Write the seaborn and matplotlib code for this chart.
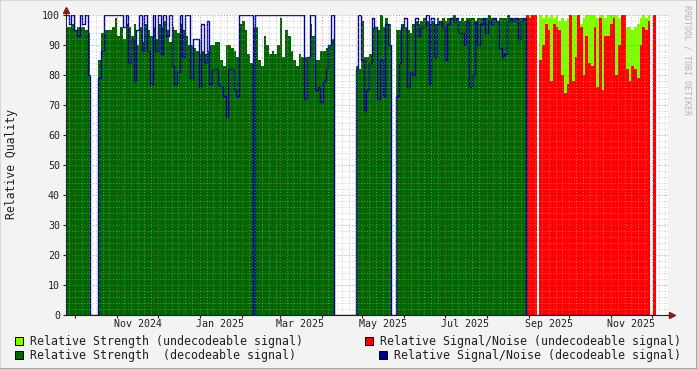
import numpy as np
import pandas as pd
import matplotlib
matplotlib.use("Agg")
import matplotlib.pyplot as plt
import matplotlib.dates as mdates
from matplotlib.ticker import MultipleLocator, NullFormatter
from matplotlib.patches import Rectangle
from matplotlib.lines import Line2D
import seaborn as sns

# =====================================================
# DATA  (one sample every 2 days)
# =====================================================

start_date = "2024-09-24"
undecoded_from = "2025-08-30"   # from here on the signal was not decoded any more
x_end = "2025-12-13"

# relative strength (%)
strength = [
    96, 96, 97, 95, 96, 96, 96, 95, 94,
    0, 0, 0,
    85, 94, 95, 95, 95, 96, 99, 93, 96, 92, 97, 96, 93, 97, 90, 96, 91, 97,
    95, 93, 96, 92, 97, 96, 98, 95, 91,
    96, 95, 94, 97, 95, 93, 90, 90, 89, 88, 87, 88, 87, 88, 90, 90, 91, 91,
    85, 83, 90, 90, 89, 88, 86, 97, 98, 95, 87, 84, 96, 96, 85, 83, 93, 90, 87,
    88, 87, 90, 99, 86, 95, 93, 88, 85, 83, 87, 86, 86, 86, 97, 93, 85, 85,
    88, 88, 89, 90, 92, 0,
    0, 0, 0, 0, 0, 0, 0,
    83, 82, 98, 86, 86, 87, 96, 96, 95, 100, 96, 99, 97,
    0, 0,
    95, 95, 97, 96, 95, 94, 97, 98, 97, 98, 99, 98, 97, 98, 97, 99, 98, 99,
    98, 99, 99, 100, 99, 98, 99, 98, 99, 99, 99, 98, 99, 99, 99, 99, 100, 99,
    99, 98, 99, 99, 99, 100, 99, 99, 99, 99, 99, 99,
    100, 100, 100, 100, 0, 100, 99, 100, 99, 100, 99, 100, 98, 99, 98, 99,
    100, 100, 100, 100, 97, 99, 100, 100, 100, 100, 99, 100, 100, 99, 100, 100,
    100, 100, 99, 100, 100, 96, 96, 95, 96, 97, 99, 100, 99, 100, 0, 100,
]

# relative signal/noise (%)
snr = [
    100, 97, 100, 95, 93, 100, 97, 100, 80,
    0, 0, 0,
    79, 88, 100, 100, 100, 100, 100, 100, 100, 96, 100, 84, 92, 78, 95, 100,
    88, 100, 88, 77, 100, 88, 100, 87, 100, 93, 100,
    83, 77, 81, 100, 86, 100, 100, 79, 92, 92, 76, 97, 84, 98, 77, 82, 82, 77,
    76, 73, 66, 82, 82, 75, 73, 100, 100, 100, 100, 100, 0, 100, 100, 100,
    100, 100, 100,
    100, 100, 100, 100, 100, 100, 100, 100, 100, 100, 100, 100, 72, 86, 100,
    100, 75, 76, 71, 78, 82, 90, 100, 0,
    0, 0, 0, 0, 0, 0, 0,
    82, 100, 85, 68, 75, 84, 99, 96, 72, 85, 73, 97, 90,
    0, 0,
    73, 84, 96, 99, 76, 81, 80, 99, 93, 96, 96, 100, 77, 99, 86, 97, 98, 96,
    85, 97, 99, 98, 99, 94, 94, 90, 98, 76, 80, 98, 90, 97, 99, 94, 98, 97,
    99, 98, 89, 86, 87, 98, 99, 98, 99, 92, 98, 99,
    100, 99, 100, 100, 0, 85, 90, 97, 95, 78, 97, 96, 95, 80, 74, 77,
    100, 78, 86, 100, 96, 80, 93, 84, 83, 96, 76, 99, 75, 93, 93, 97,
    99, 80, 90, 100, 100, 82, 78, 83, 82, 79, 90, 96, 95, 98, 0, 100,
]

label_dates = ["2024-11-16", "2025-01-16", "2025-03-16", "2025-05-16",
               "2025-07-16", "2025-09-16", "2025-11-16"]
label_text = ["Nov 2024", "Jan 2025", "Mar 2025", "May 2025",
              "Jul 2025", "Sep 2025", "Nov 2025"]

legend_labels = [
    "Relative Strength (undecodeable signal)",
    "Relative Strength  (decodeable signal)",
    "Relative Signal/Noise (undecodeable signal)",
    "Relative Signal/Noise (decodeable signal)",
]

C_STR_UNDEC = "#80FF00"
C_STR_DEC = "#006600"
C_SNR_UNDEC = "#FF0000"
C_SNR_DEC = "#000099"
C_BACK = "#F3F3F3"

# =====================================================
# SERIES
# =====================================================

dates = pd.date_range(start_date, periods=len(strength) + 1, freq="2D")
s = np.array(strength + [0], dtype=float)
n = np.array(snr + [0], dtype=float)
dec = dates < pd.Timestamp(undecoded_from)

str_undec = np.where(dec, 0, s)
str_dec = np.where(dec, s, 0)
snr_undec = np.where(dec, 0, n)
snr_dec = np.where(dec, n, 0)

# =====================================================
# PLOT
# =====================================================

plt.rcParams["font.family"] = ["DejaVu Sans Mono"]

W, H = 697, 369
fig = plt.figure(figsize=(W / 100, H / 100), dpi=100, facecolor=C_BACK)
ax = fig.add_axes([66 / W, (H - 315) / H, 602 / W, 300 / H])
ax.set_facecolor("white")

ax.fill_between(dates, 0, str_undec, step="post", color=C_STR_UNDEC, lw=0, zorder=1)
ax.fill_between(dates, 0, str_dec, step="post", color=C_STR_DEC, lw=0, zorder=1.1)
ax.fill_between(dates, 0, snr_undec, step="post", color=C_SNR_UNDEC, lw=0, zorder=1.2)
sns.lineplot(x=dates, y=snr_dec, drawstyle="steps-post", color=C_SNR_DEC,
             linewidth=1.0, ax=ax, zorder=2)

ax.set_xlim(pd.Timestamp(start_date), pd.Timestamp(x_end))
ax.set_ylim(0, 100)

# grid like rrdtool
ax.xaxis.set_major_locator(mdates.MonthLocator())
ax.xaxis.set_minor_locator(mdates.DayLocator(bymonthday=[6, 11, 16, 21, 26]))
ax.xaxis.set_major_formatter(NullFormatter())
ax.yaxis.set_major_locator(MultipleLocator(10))
ax.yaxis.set_minor_locator(MultipleLocator(2))
ax.set_axisbelow(False)
ax.grid(which="minor", color="#A8A8A8", alpha=0.6, linestyle=(0, (1, 2)), linewidth=0.7)
ax.grid(which="major", color="#E05050", alpha=0.7, linestyle=(0, (1, 2)), linewidth=0.7)

for side in ["top", "right"]:
    ax.spines[side].set_visible(False)
for side in ["left", "bottom"]:
    ax.spines[side].set_color("#202020")
    ax.spines[side].set_linewidth(0.8)

ax.tick_params(which="major", length=2.2, width=0.8, color="#202020",
               labelsize=7.2, pad=2.2, labelcolor="#202020")
ax.tick_params(which="minor", length=0)
ax.set_xlabel("")
ax.set_ylabel("")

xa = ax.get_xaxis_transform()
for d, t in zip(label_dates, label_text):
    ax.text(pd.Timestamp(d), -0.03, t, transform=xa, ha="center", va="center",
            fontsize=7.2, color="#202020")

# axis arrows
ax.plot([0, 0], [1, 1.017], transform=ax.transAxes, color="#202020", lw=0.8, clip_on=False)
ax.plot([1, 1.007], [0, 0], transform=ax.transAxes, color="#202020", lw=0.8, clip_on=False)
ax.plot([0], [1.017], transform=ax.transAxes, marker="^", ms=4, color="#8B1A1A",
        clip_on=False, ls="none")
ax.plot([1.007], [0], transform=ax.transAxes, marker=">", ms=4, color="#8B1A1A",
        clip_on=False, ls="none")

# texts around the graph
fig.text(12 / W, 1 - 164 / H, "Relative Quality", rotation=90, ha="center",
         va="center", fontsize=8.3, color="#202020")
fig.text(687 / W, 1 - 60 / H, "RRDTOOL / TOBI OETIKER", rotation=270, ha="center",
         va="center", fontsize=6, color="#B4B4B4")

# legend
legend_pos = [(15, 341), (15, 355), (365, 341), (379, 355)]
legend_cols = [C_STR_UNDEC, C_STR_DEC, C_SNR_UNDEC, C_SNR_DEC]
for (lx, ly), col, lab in zip(legend_pos, legend_cols, legend_labels):
    fig.add_artist(Rectangle((lx / W, 1 - (ly + 4) / H), 8 / W, 8 / H,
                             transform=fig.transFigure, facecolor=col,
                             edgecolor="black", lw=0.7))
    fig.text((lx + 15) / W, 1 - ly / H, lab, ha="left", va="center",
             fontsize=8.4, color="#202020")

# 3d frame round the image
fig.add_artist(Line2D([0, 1], [1, 1], transform=fig.transFigure, color="#D8D8D8", lw=1.5))
fig.add_artist(Line2D([0, 0], [0, 1], transform=fig.transFigure, color="#D8D8D8", lw=1.5))
fig.add_artist(Line2D([0, 1], [0, 0], transform=fig.transFigure, color="#9C9C9C", lw=2))
fig.add_artist(Line2D([1, 1], [0, 1], transform=fig.transFigure, color="#9C9C9C", lw=2))

fig.savefig("out.png", dpi=100, facecolor=C_BACK)
